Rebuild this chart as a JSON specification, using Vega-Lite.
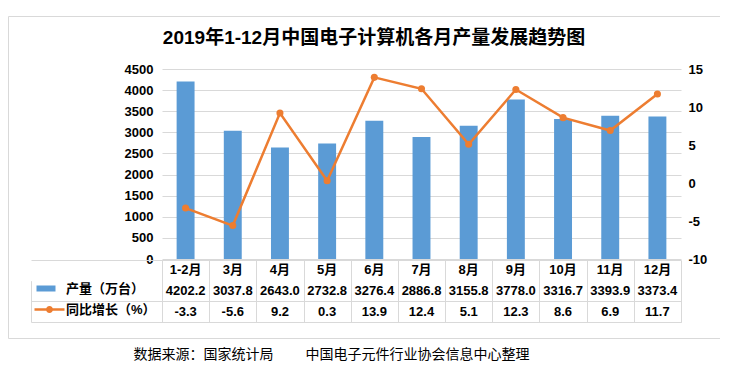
{
  "$schema": "https://vega.github.io/schema/vega-lite/v6.json",
  "width": 712,
  "height": 322,
  "padding": {"left": 8, "top": 16, "right": 0, "bottom": 0},
  "autosize": {"type": "pad"},
  "config": {
    "locale": {"number": {"decimal": ".", "thousands": ",", "grouping": [3], "currency": ["", ""], "minus": "-"}},
    "view": {"stroke": "#D9D9D9", "strokeWidth": 1},
    "font": "Liberation Sans, Noto Sans CJK SC",
    "axis": {"labelFont": "Liberation Sans, Noto Sans CJK SC", "labelFontSize": 13, "labelFontWeight": "bold", "labelColor": "#000000"}
  },
  "title": {
    "text": "2019年1-12月中国电子计算机各月产量发展趋势图",
    "font": "Liberation Sans, Noto Sans CJK SC",
    "fontSize": 19,
    "fontWeight": "bold",
    "color": "#000000",
    "anchor": "middle",
    "offset": -32,
    "dx": 10
  },
  "data": {
    "values": [
      {"month": "1-2月", "output": 4202.2, "yoy": -3.3},
      {"month": "3月", "output": 3037.8, "yoy": -5.6},
      {"month": "4月", "output": 2643.0, "yoy": 9.2},
      {"month": "5月", "output": 2732.8, "yoy": 0.3},
      {"month": "6月", "output": 3276.4, "yoy": 13.9},
      {"month": "7月", "output": 2886.8, "yoy": 12.4},
      {"month": "8月", "output": 3155.8, "yoy": 5.1},
      {"month": "9月", "output": 3778.0, "yoy": 12.3},
      {"month": "10月", "output": 3316.7, "yoy": 8.6},
      {"month": "11月", "output": 3393.9, "yoy": 6.9},
      {"month": "12月", "output": 3373.4, "yoy": 11.7}
    ]
  },
  "layer": [
    {
      "layer": [
        {
          "mark": {"type": "bar", "color": "#5B9BD5", "width": {"band": 0.38}},
          "encoding": {
            "x": {
              "field": "month", "type": "nominal", "sort": null,
              "scale": {"range": [154, 673], "paddingInner": 0, "paddingOuter": 0},
              "axis": {
                "orient": "bottom", "offset": -16, "labels": false, "grid": false,
                "tickBand": "extent", "tickSize": -62, "tickColor": "#D9D9D9", "tickWidth": 1,
                "domainColor": "#D9D9D9",
                "title": "数据来源：国家统计局　　 中国电子元件行业协会信息中心整理",
                "titleX": 125, "titleY": 32, "titleAlign": "left", "titleAnchor": "start",
                "titleBaseline": "middle", "titleFontSize": 14, "titleFontWeight": "normal",
                "titleColor": "#000000", "titleFont": "Liberation Sans, Noto Sans CJK SC"
              }
            },
            "y": {
              "field": "output", "type": "quantitative",
              "scale": {"domain": [0, 4500], "range": [243, 53], "nice": false},
              "axis": {
                "orient": "left", "offset": -154, "values": [0, 500, 1000, 1500, 2000, 2500, 3000, 3500, 4000, 4500],
                "format": "d",
                "grid": true, "gridColor": "#D9D9D9", "domain": false, "ticks": false, "tickSize": 0,
                "labelPadding": 9, "title": null
              }
            }
          }
        },
        {
          "mark": {"type": "line", "color": "#ED7D31", "strokeWidth": 2.5, "point": {"filled": true, "size": 50, "color": "#ED7D31"}},
          "encoding": {
            "x": {"field": "month", "type": "nominal", "sort": null},
            "y": {
              "field": "yoy", "type": "quantitative",
              "scale": {"domain": [-10, 15], "range": [243, 53], "nice": false, "zero": false},
              "axis": {
                "orient": "right", "offset": -39, "values": [-10, -5, 0, 5, 10, 15],
                "format": "d",
                "grid": false, "domain": false, "ticks": false, "tickSize": 0,
                "labelPadding": 7, "title": null
              }
            }
          }
        }
      ],
      "resolve": {"scale": {"y": "independent"}, "axis": {"y": "independent"}}
    },
    {
      "layer": [
        {
          "mark": {"type": "text", "fontSize": 13, "fontWeight": "bold", "color": "#000000"},
          "encoding": {
            "x": {"field": "month", "type": "nominal", "sort": null},
            "y": {
              "datum": "cat", "type": "nominal",
              "scale": {"type": "band", "domain": ["cat", "prod", "yoy"], "range": [244, 306], "paddingInner": 0, "paddingOuter": 0},
              "axis": {
                "orient": "left", "offset": -23, "labels": false, "grid": false,
                "tickBand": "extent", "tickSize": -650, "tickWidth": 1,
                "tickColor": {"condition": {"test": "datum.value === 'cat'", "value": "transparent"}, "value": "#D9D9D9"},
                "domainColor": "#D9D9D9", "domainDash": [0, 20.67, 41.33], "title": null
              }
            },
            "text": {"field": "month"}
          }
        },
        {
          "mark": {"type": "text", "fontSize": 13, "fontWeight": "bold", "color": "#000000"},
          "encoding": {
            "x": {"field": "month", "type": "nominal", "sort": null},
            "y": {"datum": "prod", "type": "nominal"},
            "text": {"field": "output", "format": ".1f"}
          }
        },
        {
          "mark": {"type": "text", "fontSize": 13, "fontWeight": "bold", "color": "#000000"},
          "encoding": {
            "x": {"field": "month", "type": "nominal", "sort": null},
            "y": {"datum": "yoy", "type": "nominal"},
            "text": {"field": "yoy", "format": ".1f"}
          }
        },
        {
          "data": {"values": [{"s": "产量（万台）"}, {"s": "同比增长（%）"}]},
          "transform": [{"filter": "false"}],
          "mark": {"type": "point", "filled": true},
          "encoding": {
            "color": {
              "field": "s", "type": "nominal",
              "scale": {"domain": ["产量（万台）", "同比增长（%）"], "range": ["#5B9BD5", "#ED7D31"]},
              "legend": {
                "orient": "none", "legendX": 35, "legendY": 266, "title": null, "direction": "vertical",
                "labelFont": "Liberation Sans, Noto Sans CJK SC", "labelFontSize": 13, "labelFontWeight": "bold", "labelColor": "#000000",
                "symbolSize": 100, "symbolStrokeWidth": 0, "symbolOpacity": 1, "rowPadding": 7, "labelOffset": 10, "padding": 0
              }
            },
            "shape": {
              "field": "s", "type": "nominal",
              "scale": {"domain": ["产量（万台）", "同比增长（%）"], "range": ["M-2.6,-0.6H1.2V0.6H-2.6Z", "M-3,-0.25H3V0.25H-3Z M0.7,0A0.7,0.7 0 1,1 -0.7,0A0.7,0.7 0 1,1 0.7,0Z"]},
              "legend": {
                "orient": "none", "legendX": 35, "legendY": 266, "title": null, "direction": "vertical",
                "labelFont": "Liberation Sans, Noto Sans CJK SC", "labelFontSize": 13, "labelFontWeight": "bold", "labelColor": "#000000",
                "symbolSize": 100, "symbolStrokeWidth": 0, "symbolOpacity": 1, "rowPadding": 7, "labelOffset": 10, "padding": 0
              }
            }
          }
        }
      ]
    }
  ],
  "resolve": {"scale": {"y": "independent"}, "axis": {"y": "independent"}}
}
